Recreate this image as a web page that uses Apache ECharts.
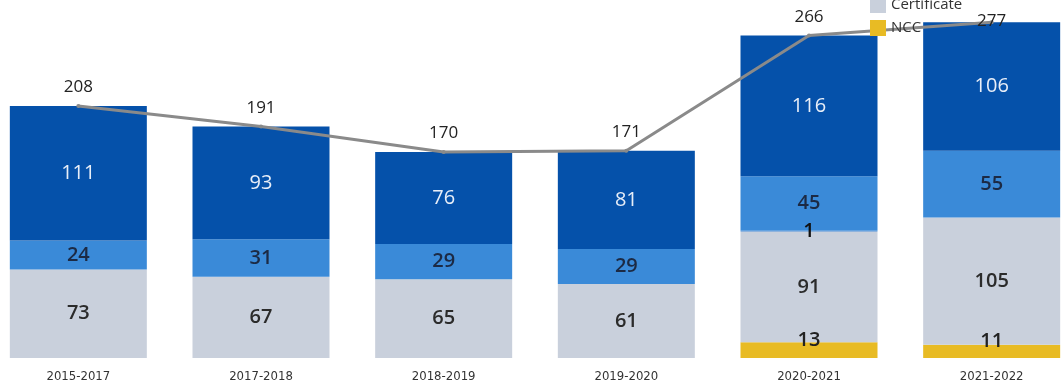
<!DOCTYPE html>
<html>
<head>
<meta charset="utf-8">
<script src="https://cdn.jsdelivr.net/npm/echarts@6/dist/echarts.min.js"></script>
<style>
  html, body { margin: 0; padding: 0; background: #fff; overflow: hidden; }
  body { width: 1062px; height: 386px; position: relative; }
  /* plot area runs slightly past the page edges, so the canvas is wider than the page */
  #chart { position: absolute; left: -13px; top: -10px; width: 1096px; height: 396px; }
</style>
</head>
<body>
<div id="chart"></div>
<script>
// Enrolment by award type per academic year
const years = ['2015-2017', '2017-2018', '2018-2019', '2019-2020', '2020-2021', '2021-2022'];
const ncc = [null, null, null, null, 13, 11];
const certificate = [73, 67, 65, 61, 91, 105];
const other = [null, null, null, null, 1, null];
const diploma = [24, 31, 29, 29, 45, 55];
const degree = [111, 93, 76, 81, 116, 106];

const totals = years.map((_, i) =>
  [ncc, certificate, other, diploma, degree].reduce((s, arr) => s + (arr[i] || 0), 0)
);

const FONT = '"Open Sans", "DejaVu Sans", sans-serif';

function segLabel(color, extra) {
  return Object.assign({
    show: true,
    position: 'inside',
    color: color,
    fontFamily: FONT,
    fontSize: 20,
    fontWeight: 600
  }, extra || {});
}

// the last total sits at the very top, so its label is tucked down onto the line
const totalPoints = totals.map((v, i) =>
  i === totals.length - 1 ? { value: v, label: { distance: -9 } } : v
);

const chart = echarts.init(document.getElementById('chart'), null, { renderer: 'canvas' });
chart.setOption({
  animation: false,
  backgroundColor: '#ffffff',
  grid: { left: 0, right: 0, top: 16.5, bottom: 28, containLabel: false },
  legend: {
    data: ['Certificate', 'NCC'],
    orient: 'vertical',
    left: 878,
    top: 2,
    itemWidth: 16,
    itemHeight: 16,
    itemGap: 7,
    icon: 'rect',
    textStyle: { fontFamily: FONT, fontSize: 15, color: '#333' }
  },
  xAxis: {
    type: 'category',
    data: years,
    axisLine: { show: false },
    axisTick: { show: false },
    axisLabel: {
      margin: 12,
      fontFamily: '"DejaVu Sans Condensed", "DejaVu Sans", sans-serif',
      fontSize: 13,
      color: '#333'
    }
  },
  yAxis: {
    type: 'value',
    min: 0,
    max: 290,
    show: false,
    splitLine: { show: false }
  },
  series: [
    {
      name: 'NCC', type: 'bar', stack: 'total', barWidth: 137,
      data: ncc,
      itemStyle: { color: '#e8bb24' },
      label: segLabel('#222', { offset: [0, -10] })
    },
    {
      name: 'Certificate', type: 'bar', stack: 'total', barWidth: 137,
      data: certificate,
      itemStyle: { color: '#c9d0dc' },
      label: segLabel('#2b2b2b')
    },
    {
      name: 'Other', type: 'bar', stack: 'total', barWidth: 137,
      data: other,
      itemStyle: { color: '#8fb3dd' },
      label: segLabel('#111')
    },
    {
      name: 'Diploma', type: 'bar', stack: 'total', barWidth: 137,
      data: diploma,
      itemStyle: { color: '#3a8ad8' },
      label: segLabel('#1c2a44')
    },
    {
      name: 'Degree', type: 'bar', stack: 'total', barWidth: 137,
      data: degree,
      itemStyle: { color: '#0551aa' },
      label: segLabel('#e8eef8', { fontWeight: 'normal' })
    },
    {
      name: 'Total', type: 'line',
      data: totalPoints,
      symbol: 'circle',
      symbolSize: 4,
      lineStyle: { color: '#8a8a8a', width: 3 },
      itemStyle: { color: '#8a8a8a' },
      z: 3,
      label: {
        show: true,
        position: 'top',
        distance: 8,
        color: '#222',
        fontFamily: FONT,
        fontSize: 17
      }
    }
  ]
});
</script>
</body>
</html>
